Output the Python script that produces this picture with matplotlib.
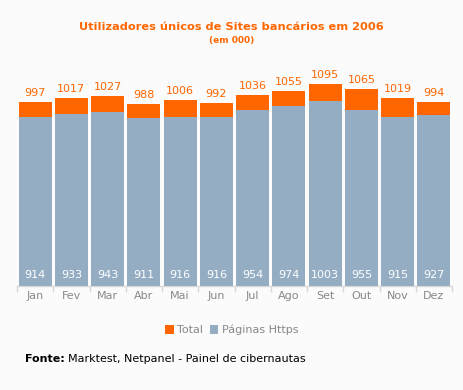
import matplotlib
matplotlib.use("Agg")
import matplotlib.pyplot as plt
import numpy as np

meses = ["Jan", "Fev", "Mar", "Abr", "Mai", "Jun", "Jul", "Ago", "Set", "Out", "Nov", "Dez"]
total = [997, 1017, 1027, 988, 1006, 992, 1036, 1055, 1095, 1065, 1019, 994]
https = [914, 933, 943, 911, 916, 916, 954, 974, 1003, 955, 915, 927]

laranja = "#ff6600"
azul = "#94adc3"
fundo = "#fbfbfb"

fig = plt.figure(figsize=(4.63, 3.90), dpi=100, facecolor=fundo)
ax = fig.add_axes([17 / 463, 104 / 390, 435 / 463, 216 / 390])
ax.set_facecolor(fundo)

x = np.arange(len(meses))
ax.bar(x, total, width=0.91, color=laranja, label="Total", zorder=2)
ax.bar(x, https, width=0.91, color=azul, label="Páginas Https", zorder=3)

for i in range(len(meses)):
    ax.text(x[i], total[i] + 22, str(total[i]), ha="center", va="bottom",
            color=laranja, fontsize=8, zorder=4)
    ax.text(x[i], 60, str(https[i]), ha="center", va="center",
            color="white", fontsize=8, zorder=4)

ax.set_xlim(-0.5, len(meses) - 0.5)
ax.set_ylim(0, 1170)
ax.set_yticks([])
ax.set_xticks(np.arange(-0.5, len(meses), 1))
ax.set_xticklabels([])
ax.tick_params(axis="x", length=4, color="#d8d8d8", width=1)
for i in range(len(meses)):
    ax.text(x[i], -52, meses[i], ha="center", va="center", color="#888888", fontsize=8)

for s in ["top", "right", "left"]:
    ax.spines[s].set_visible(False)
ax.spines["bottom"].set_color("#d8d8d8")
ax.spines["bottom"].set_linewidth(1)

fig.text(0.5, 1 - 27 / 390, "Utilizadores únicos de Sites bancários em 2006", ha="center",
         va="center", color=laranja, fontsize=8.2, fontweight="bold")
fig.text(0.5, 1 - 41 / 390, "(em 000)", ha="center", va="center", color=laranja,
         fontsize=6.5, fontweight="bold")

fig.legend(loc="center", bbox_to_anchor=(0.5, 1 - 330 / 390), ncol=2, frameon=False,
           fontsize=8, handlelength=0.8, handleheight=0.8, handletextpad=0.3,
           columnspacing=0.6, labelcolor="#888888")

t = fig.text(25 / 463, 1 - 359 / 390, "Fonte:", ha="left", va="center", color="black",
             fontsize=8, fontweight="bold")
fig.text(68 / 463, 1 - 359 / 390, "Marktest, Netpanel - Painel de cibernautas",
         ha="left", va="center", color="black", fontsize=8)

plt.savefig("out.png", dpi=100, facecolor=fundo)
